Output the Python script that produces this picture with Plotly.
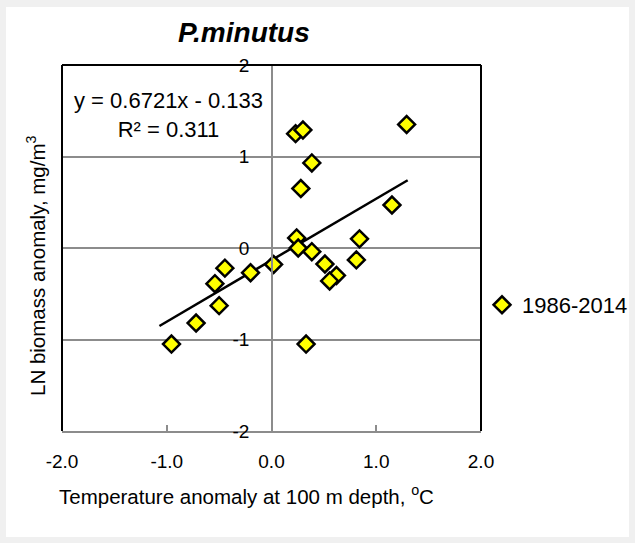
import plotly.graph_objects as go

# Data
temp_anomaly = [0.23, 0.30, 1.29, 0.385, 0.28, 1.15, 0.24, 0.84, 0.255, 0.385,
                0.51, 0.62, 0.555, 0.81, 0.02, -0.20, -0.445, -0.54, -0.50,
                -0.72, -0.955, 0.33]
biomass_anomaly = [1.25, 1.29, 1.35, 0.93, 0.65, 0.47, 0.11, 0.10, 0.0, -0.04,
                   -0.175, -0.30, -0.36, -0.13, -0.18, -0.27, -0.22, -0.39, -0.63,
                   -0.82, -1.05, -1.05]
series_name = "1986-2014"
slope = 0.6721
intercept = -0.133
r_squared = 0.311
trend_x = [-1.07, 1.30]
x_ticks = [-2.0, -1.0, 0.0, 1.0, 2.0]
y_ticks = [-2, -1, 0, 1, 2]

trend_y = [slope * v + intercept for v in trend_x]

FONT = "Liberation Sans"

fig = go.Figure()
fig.add_trace(go.Scatter(
    x=trend_x, y=trend_y, mode="lines",
    line=dict(color="black", width=2.5), showlegend=False, hoverinfo="skip"))
fig.add_trace(go.Scatter(
    x=temp_anomaly, y=biomass_anomaly, mode="markers", name=series_name,
    marker=dict(symbol="diamond", size=13, color="#ffff00",
                line=dict(color="black", width=2.5))))

L, R, T, B = 62, 154, 65, 112
W, H = 635, 543
pw, ph = W - L - R, H - T - B

def px(xp):
    return (xp - L) / pw

def py(yp):
    return (H - B - yp) / ph

fig.update_layout(
    width=W, height=H,
    margin=dict(l=L, r=R, t=T, b=B, autoexpand=False),
    paper_bgcolor="#f0f0f0",
    plot_bgcolor="white",
    font=dict(family=FONT, color="black", size=19),
    xaxis=dict(range=[-2, 2], tickvals=x_ticks, ticktext=[f"{v:.1f}" for v in x_ticks],
               showgrid=False, zeroline=False, showline=True, linecolor="#8c8c8c",
               linewidth=2, ticks="inside", ticklen=6, tickcolor="#8c8c8c",
               tickwidth=1.5, tickfont=dict(size=19, family=FONT), ticklabelstandoff=12),
    yaxis=dict(range=[-2, 2], tickvals=y_ticks, ticktext=[str(v) for v in y_ticks],
               showgrid=True, gridcolor="#8c8c8c",
               gridwidth=1.5, zeroline=False, showline=True, linecolor="#8c8c8c",
               linewidth=1.5, anchor="free", position=0.5012, ticks="",
               tickfont=dict(size=19, family=FONT), ticklabelstandoff=18),
    legend=dict(x=px(482), y=py(305), xanchor="left", yanchor="middle",
                font=dict(size=22, family=FONT), bgcolor="rgba(0,0,0,0)"),
    showlegend=True,
    shapes=[
        dict(type="rect", xref="paper", yref="paper", x0=px(6), x1=px(629),
             y0=py(537), y1=py(7), fillcolor="white", line=dict(width=0), layer="below"),
        dict(type="line", xref="paper", yref="paper", x0=0, x1=0, y0=0, y1=1,
             line=dict(color="black", width=2)),
        dict(type="line", xref="paper", yref="paper", x0=1, x1=1, y0=0, y1=1,
             line=dict(color="black", width=2)),
        dict(type="line", xref="paper", yref="paper", x0=0, x1=1, y0=1, y1=1,
             line=dict(color="black", width=2)),
    ],
    annotations=[
        dict(text="<b><i>P.minutus</i></b>", xref="paper", yref="paper",
             x=px(244), y=py(32), showarrow=False, font=dict(size=28, family=FONT),
             xanchor="center", yanchor="middle"),
        dict(text=f"y = {slope}x - {abs(intercept)}<br>R² = {r_squared}", xref="paper", yref="paper",
             x=px(168), y=py(115), showarrow=False, font=dict(size=22, family=FONT),
             xanchor="center", yanchor="middle", align="center"),
        dict(text="Temperature anomaly at 100 m depth, <sup>o</sup>C", xref="paper", yref="paper",
             x=px(246), y=py(495), showarrow=False, font=dict(size=20.5, family=FONT),
             xanchor="center", yanchor="middle"),
        dict(text="LN biomass anomaly, mg/m<sup>3</sup>", xref="paper", yref="paper",
             x=px(36), y=py(266), showarrow=False, textangle=-90,
             font=dict(size=20.5, family=FONT), xanchor="center", yanchor="middle"),
    ],
)

fig.write_html("out.html")
